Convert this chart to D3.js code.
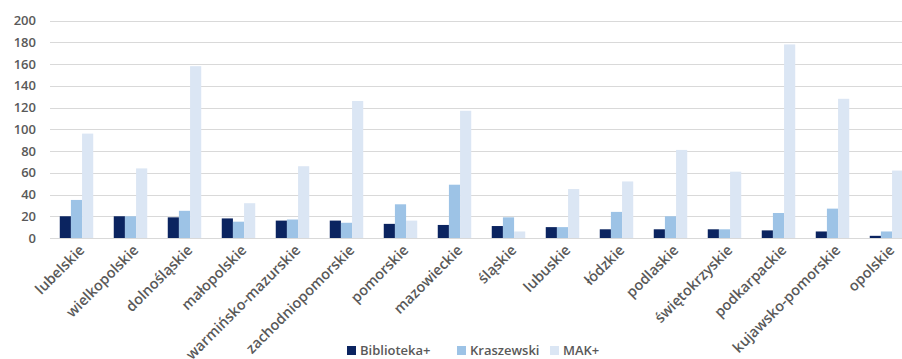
<!DOCTYPE html>
<html><head><meta charset="utf-8">
<script src="https://cdn.jsdelivr.net/npm/d3@7"></script>
<style>
html,body{margin:0;padding:0;background:#fff;overflow:hidden;}
svg{display:block;}
text{font-family:"Open Sans",sans-serif;fill:#595959;}
</style></head><body>
<svg id="chart" width="902" height="359"></svg>
<script>
const categories = ["lubelskie","wielkopolskie","dolnośląskie","małopolskie","warmińsko-mazurskie","zachodniopomorskie","pomorskie","mazowieckie","śląskie","lubuskie","łódzkie","podlaskie","świętokrzyskie","podkarpackie","kujawsko-pomorskie","opolskie"];
const seriesNames = ["Biblioteka+","Kraszewski","MAK+"];
const biblioteka = [20,20,19,18,16,16,13,12,11,10,8,8,8,7,6,2];
const kraszewski = [35,20,25,15,17,14,31,49,19,10,24,20,8,23,27,6];
const makplus = [96,64,158,32,66,126,16,117,6,45,52,81,61,178,128,62];
const yTicks = [0,20,40,60,80,100,120,140,160,180,200];
const colors = ["#0b2460","#9dc3e6","#dbe6f4"];

const svg = d3.select("#chart");
const x0 = d3.scaleBand().domain(categories).range([49.5, 913.5]).paddingInner(0.38).paddingOuter(0.19);
const x1 = d3.scaleBand().domain(seriesNames).range([0, x0.bandwidth()]);
const y = d3.scaleLinear().domain([0,200]).range([238, 20.5]);

// gridlines
svg.append("g").selectAll("line").data(yTicks).join("line")
  .attr("x1",50).attr("x2",902)
  .attr("y1",d=>Math.round(y(d))+0.5).attr("y2",d=>Math.round(y(d))+0.5)
  .attr("stroke","#d9d9d9").attr("stroke-width",1.2);

// y axis labels
const yAxis = d3.axisLeft(y).tickValues(yTicks).tickSize(0).tickPadding(0);
const gy = svg.append("g").attr("transform","translate(36,0)").call(yAxis);
gy.select(".domain").remove();
gy.selectAll("text").style("font-family",'"Open Sans",sans-serif').style("font-size","13px").style("font-weight","600").attr("fill","#595959");

// bars
const data = categories.map((c,i)=>({cat:c, vals:[biblioteka[i],kraszewski[i],makplus[i]]}));
const groups = svg.append("g").selectAll("g").data(data).join("g")
  .attr("transform",d=>`translate(${x0(d.cat)},0)`);
groups.selectAll("rect").data(d=>d.vals.map((v,j)=>({s:seriesNames[j],v,j}))).join("rect")
  .attr("x",d=>x1(d.s)).attr("width",x1.bandwidth())
  .attr("y",d=>y(d.v)).attr("height",d=>y(0)-y(d.v))
  .attr("fill",d=>colors[d.j]);

// x axis labels
const xAxis = d3.axisBottom(x0).tickSize(0).tickPadding(0);
const gx = svg.append("g").attr("transform","translate(0,238)").call(xAxis);
gx.select(".domain").remove();
gx.selectAll("text")
  .style("font-family",'"Open Sans",sans-serif').style("font-size","14.5px").style("font-weight","600").attr("fill","#595959")
  .attr("text-anchor","end").attr("dy",null).attr("y",0)
  .attr("transform","translate(9,13) rotate(-45)");

// legend
const legend = svg.append("g").attr("transform","translate(347,346)");
const lx = [0,110,203];
seriesNames.forEach((s,i)=>{
  legend.append("rect").attr("x",lx[i]).attr("y",0).attr("width",9).attr("height",9).attr("fill",colors[i]);
  legend.append("text").attr("x",lx[i]+13).attr("y",9).text(s)
    .style("font-size","13px").style("font-weight","600");
});
</script>
</body></html>
